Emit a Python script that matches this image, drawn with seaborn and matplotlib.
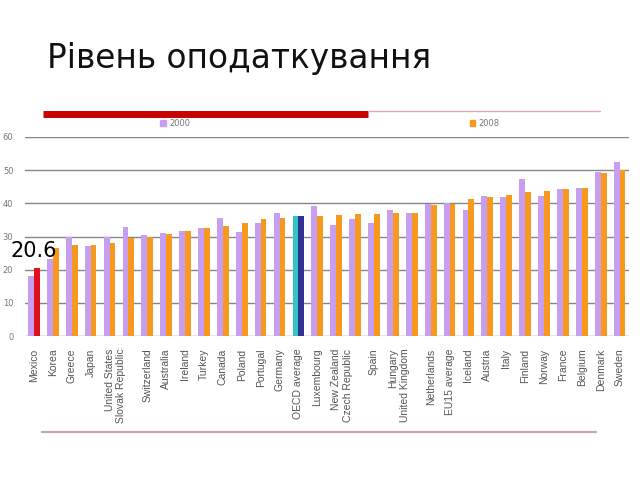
import matplotlib
matplotlib.use("Agg")
import matplotlib.pyplot as plt
import matplotlib.transforms as mtransforms
from matplotlib.lines import Line2D
import seaborn as sns
import pandas as pd

countries = ["Mexico", "Korea", "Greece", "Japan", "United States", "Slovak Republic",
             "Switzerland", "Australia", "Ireland", "Turkey", "Canada", "Poland",
             "Portugal", "Germany", "OECD average", "Luxembourg", "New Zealand",
             "Czech Republic", "Spain", "Hungary", "United Kingdom", "Netherlands",
             "EU15 average", "Iceland", "Austria", "Italy", "Finland", "Norway",
             "France", "Belgium", "Denmark", "Sweden"]
v2000 = [18.2, 23.3, 29.9, 27.0, 29.9, 33.0, 30.5, 31.0, 31.7, 32.5, 35.7, 31.4,
         34.1, 37.0, 36.2, 39.2, 33.5, 35.4, 34.1, 38.1, 37.2, 39.7,
         40.2, 38.0, 42.3, 42.0, 47.2, 42.3, 44.2, 44.7, 49.3, 52.5]
v2008 = [20.6, 26.5, 27.3, 27.3, 28.1, 29.6, 30.0, 30.7, 31.7, 32.5, 33.2, 34.0,
         35.4, 35.7, 36.2, 36.2, 36.5, 36.7, 36.7, 37.0, 37.2, 39.4,
         39.7, 41.3, 41.8, 42.5, 43.4, 43.7, 44.4, 44.7, 49.0, 50.0]
years = ["2000", "2008"]
paired = {"United States": "United States\nSlovak Republic",
          "New Zealand": "New Zealand\nCzech Republic",
          "Hungary": "Hungary\nUnited Kingdom"}
hidden = ["Slovak Republic", "Czech Republic", "United Kingdom"]
title = "Рівень оподаткування"
annot = "20.6"

df = pd.DataFrame({
    "country": countries * 2,
    "value": v2000 + v2008,
    "year": [years[0]] * len(countries) + [years[1]] * len(countries),
})

sns.set_style("white")
plt.rcParams["font.family"] = ["DejaVu Sans"]

fig = plt.figure(figsize=(6.4, 4.8), dpi=100)
ax = fig.add_axes([24.5 / 640, 0.30, 604.5 / 640, 199 / 480])

pal = {"2000": "#C89EF0", "2008": "#F7981F"}
sns.barplot(data=df, x="country", y="value", hue="year", order=countries,
            palette=pal, width=0.62, gap=0, ax=ax, linewidth=0, saturation=1,
            legend=False)

# special bars
ax.containers[1][0].set_facecolor("#E0101E")
i_oecd = countries.index("OECD average")
ax.containers[0][i_oecd].set_facecolor("#33C4C4")
ax.containers[1][i_oecd].set_facecolor("#2E3190")

ax.set_xlim(-0.5, len(countries) - 0.5)
ax.set_ylim(0, 60)
ax.set_yticks(range(0, 61, 10))
ax.yaxis.grid(True, color="#858585", linewidth=1)
ax.set_axisbelow(True)
for s in ax.spines.values():
    s.set_visible(False)
ax.set_xlabel("")
ax.set_ylabel("")

ax.tick_params(axis="y", length=0, labelsize=6, labelcolor="#777777", pad=8)
labels = [paired.get(c, "" if c in hidden else c) for c in countries]
ax.set_xticks(range(len(countries)))
ax.set_xticklabels(labels, rotation=90, fontsize=7.5, color="#555555",
                   family=["Liberation Sans", "DejaVu Sans"])
ax.tick_params(axis="x", length=0, pad=9)
off = mtransforms.ScaledTranslation(6 / 100, 0, fig.dpi_scale_trans)
for lab in ax.get_xticklabels():
    if "\n" in lab.get_text():
        lab.set_multialignment("right")
        lab.set_transform(lab.get_transform() + off)

ax.set_xticks([i + 0.5 for i in range(len(countries) - 1)], minor=True)
ax.tick_params(axis="x", which="minor", length=2, color="#999999", width=1)

# legend
h = [plt.Rectangle((0, 0), 1, 1, color=pal[y]) for y in years]
fig.legend(h, years, loc="center left", bbox_to_anchor=(156 / 640, 1 - 123 / 480),
           ncol=2, frameon=False, fontsize=6, handlelength=0.7, handleheight=0.7,
           handletextpad=0.4, columnspacing=33.5, borderpad=0,
           labelcolor="#777777")

# decorative lines
fig.add_artist(Line2D([43 / 640, 368 / 640], [1 - 113.5 / 480] * 2, color="#C80000",
                      linewidth=5, solid_capstyle="butt"))
fig.add_artist(Line2D([368 / 640, 600 / 640], [1 - 110.5 / 480] * 2, color="#E2A9B0",
                      linewidth=1))
fig.add_artist(Line2D([42 / 640, 596 / 640], [1 - 432 / 480] * 2, color="#C9A9A3",
                      linewidth=1.6))

fig.text(47 / 640, 1 - 68 / 480, title, fontsize=23.6, color="#111111",
         ha="left", va="baseline")
fig.text(10 / 640, 1 - 257 / 480, annot, fontsize=15, color="black",
         ha="left", va="baseline")

fig.savefig("out.png", dpi=100)
